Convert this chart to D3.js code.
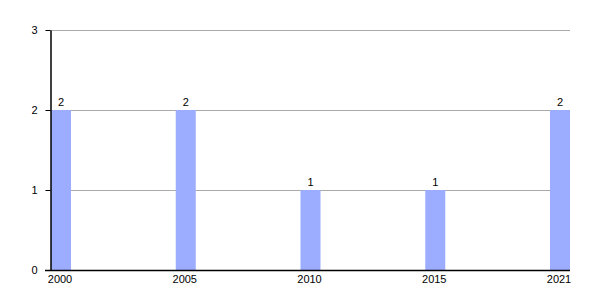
<!DOCTYPE html>
<html>
<head>
<meta charset="utf-8">
<script src="https://cdn.jsdelivr.net/npm/d3@7"></script>
<style>
  body { margin: 0; background: #fff; }
  text { font-family: "Liberation Sans", Arial, sans-serif; }
</style>
</head>
<body>
<svg id="chart" width="600" height="300"></svg>
<script>
// data
const years = ["2000", "2005", "2010", "2015", "2021"];
const counts = [2, 2, 1, 1, 2];
const yTicks = [0, 1, 2, 3];

// dimensions
const width = 600, height = 300;
const margin = {top: 30, right: 30, bottom: 30, left: 50};
const barWidth = 20;
const barColour = "#9cadff";
const gridColour = "#aaaaaa";

const svg = d3.select("#chart");
const g = svg.append("g").attr("transform", `translate(${margin.left},${margin.top})`);
const innerW = width - margin.left - margin.right;
const innerH = height - margin.top - margin.bottom;

// scales
const xScale = d3.scalePoint()
  .domain(years)
  .range([1, innerW - barWidth]);

const yScale = d3.scaleLinear()
  .domain([0, 3])
  .range([innerH, 0]);

// gridlines
g.selectAll(".grid")
  .data(yTicks.filter(d => d > 0))
  .join("line")
  .attr("x1", 0)
  .attr("x2", innerW)
  .attr("y1", d => yScale(d) + 0.5)
  .attr("y2", d => yScale(d) + 0.5)
  .attr("stroke", gridColour)
  .attr("stroke-width", 1);

// bars
g.selectAll(".bar")
  .data(years.map((y, i) => ({year: y, value: counts[i]})))
  .join("rect")
  .attr("x", d => xScale(d.year))
  .attr("y", d => yScale(d.value))
  .attr("width", barWidth)
  .attr("height", d => innerH - yScale(d.value))
  .attr("fill", barColour);

// value labels
g.selectAll(".val")
  .data(years.map((y, i) => ({year: y, value: counts[i]})))
  .join("text")
  .attr("x", d => xScale(d.year) + barWidth / 2)
  .attr("y", d => yScale(d.value) - 4)
  .attr("text-anchor", "middle")
  .attr("font-size", "11px")
  .attr("fill", "#000")
  .text(d => d.value);

// y axis
const yAxis = g.append("g")
  .attr("transform", "translate(0.5,0)")
  .call(d3.axisLeft(yScale).tickValues(yTicks).tickFormat(d3.format("d")).tickSize(5).tickSizeOuter(0));
yAxis.select(".domain").attr("stroke", "#000").attr("stroke-width", 1.5);
yAxis.selectAll(".tick line").attr("stroke", "#000");
yAxis.selectAll("text").attr("font-size", "11px").attr("fill", "#000").attr("x", -13);
yAxis.attr("font-family", null);

// x axis
const xAxis = g.append("g")
  .attr("transform", `translate(0,${innerH + 0.5})`)
  .call(d3.axisBottom(xScale).tickSize(0).tickSizeOuter(0));
xAxis.select(".domain").attr("stroke", "#000").attr("stroke-width", 1.5)
  .attr("d", `M-5,0H${innerW}`);
xAxis.selectAll(".tick").attr("transform", d => `translate(${xScale(d) + barWidth / 2 - 1},0)`);
xAxis.selectAll("text").attr("font-size", "11px").attr("fill", "#000").attr("y", 5);
xAxis.attr("font-family", null);
</script>
</body>
</html>
